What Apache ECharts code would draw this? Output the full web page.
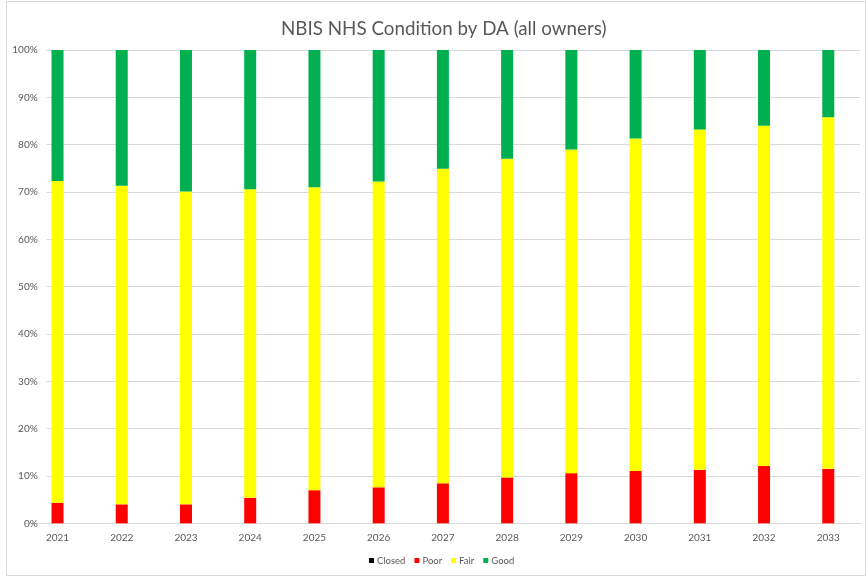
<!DOCTYPE html>
<html>
<head>
<meta charset="utf-8">
<script src="https://cdn.jsdelivr.net/npm/echarts@6/dist/echarts.min.js"></script>
<style>html,body{margin:0;padding:0;background:#fff;}#c{width:868px;height:577px;}</style>
</head>
<body>
<div id="c"></div>
<script>
const years = ['2021','2022','2023','2024','2025','2026','2027','2028','2029','2030','2031','2032','2033'];
const closed = [0,0,0,0,0,0,0,0,0,0,0,0,0];
const poor = [4.35,4.0,4.0,5.4,7.0,7.6,8.45,9.7,10.6,11.05,11.3,12.1,11.5];
const fair = [67.95,67.3,66.1,65.2,64.0,64.6,66.45,67.3,68.4,70.25,71.9,71.9,74.3];
const good = [27.7,28.7,29.9,29.4,29.0,27.8,25.1,23.0,21.0,18.7,16.8,16.0,14.2];
const yTicks = [0,10,20,30,40,50,60,70,80,90,100];

const chart = echarts.init(document.getElementById('c'), null, {renderer:'canvas'});
const font = 'Lato, "Open Sans", sans-serif';
const txt = '#595959';
const mk = (name, data, color) => ({
  name, type:'bar', stack:'s', data, barWidth:12, xAxisIndex:0, yAxisIndex:0,
  itemStyle:{color}, emphasis:{disabled:true}
});
chart.setOption({
  animation:false,
  backgroundColor:'#fff',
  textStyle:{fontFamily:font},
  title:{text:'NBIS NHS Condition by DA (all owners)', left:276, top:14,
    textStyle:{fontSize:18.8, fontWeight:'normal', color:txt, fontFamily:font}},
  graphic:[{type:'rect', shape:{x:6.5,y:1.5,width:859,height:574}, style:{fill:null, stroke:'#d9d9d9', lineWidth:1}, silent:true}],
  legend:{data:['Closed','Poor','Fair','Good'], top:555.5, left:369, padding:0, icon:'rect', itemWidth:5, itemHeight:5, itemGap:9,
    itemStyle:{borderWidth:0},
    textStyle:{fontSize:9.5, color:txt, fontFamily:font, padding:[0,0,0,-2]}},
  grid:[
    {left:25.4, right:7.6, top:50, bottom:53.7},
    {left:46.7, right:8, top:50, bottom:53.7}
  ],
  xAxis:[
    {type:'category', data:years, gridIndex:0, boundaryGap:true,
     axisLine:{show:true, lineStyle:{color:'#d9d9d9'}}, axisTick:{show:false},
     axisLabel:{color:txt, fontSize:10, margin:9, fontFamily:font}},
    {type:'value', gridIndex:1, show:false, min:0, max:1}
  ],
  yAxis:[
    {type:'value', gridIndex:0, min:0, max:100, show:false},
    {type:'value', gridIndex:1, min:0, max:100, interval:10,
     axisLine:{show:false}, axisTick:{show:false},
     splitLine:{lineStyle:{color:'#d9d9d9', width:1}},
     axisLabel:{formatter:v=>v+'%', color:txt, fontSize:10, margin:9, fontFamily:font}}
  ],
  series:[
    mk('Closed', closed, '#000000'),
    mk('Poor', poor, '#FF0000'),
    mk('Fair', fair, '#FFFF00'),
    mk('Good', good, '#00B050')
  ]
});
</script>
</body>
</html>
